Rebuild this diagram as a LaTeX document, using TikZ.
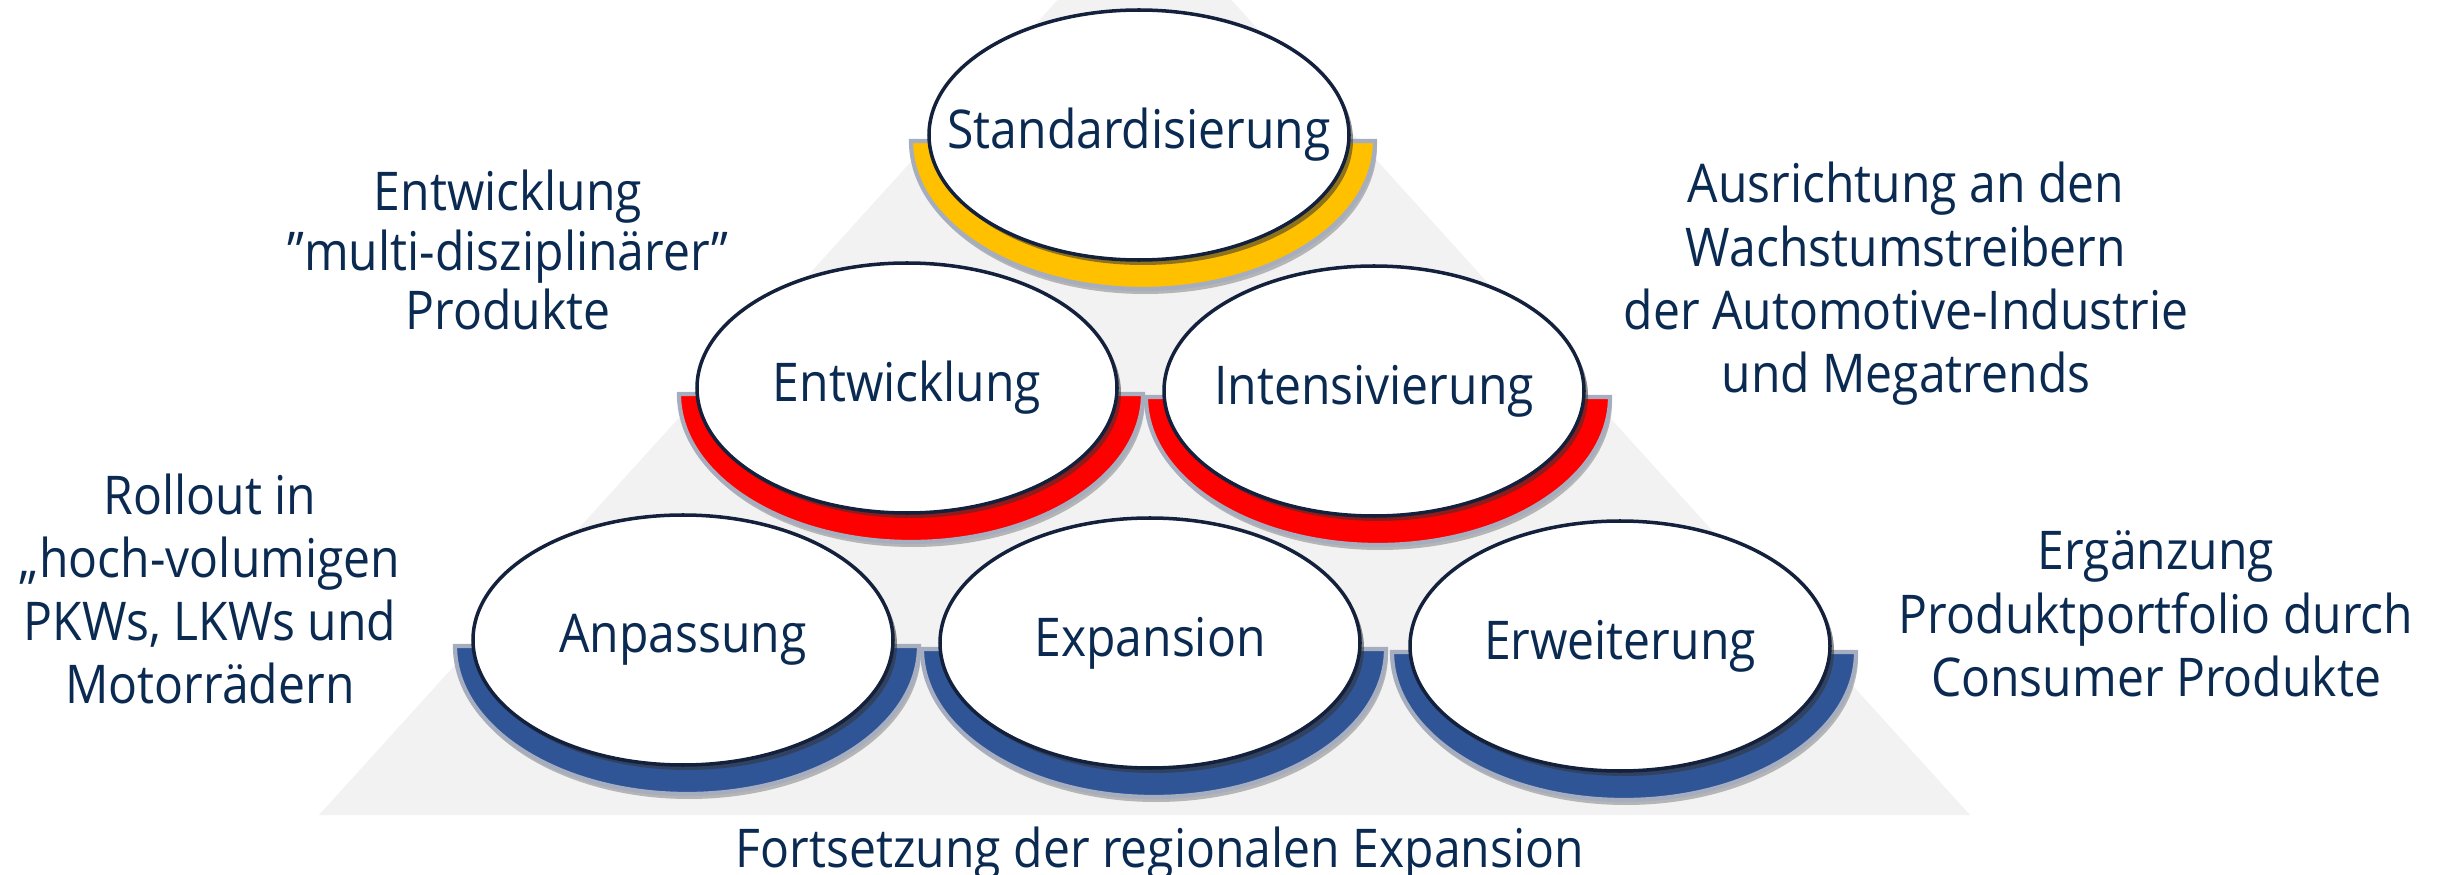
\documentclass[tikz,border=0pt]{standalone}
\usepackage{fontspec}
\setmainfont[FakeStretch=0.9]{Open Sans}
\usetikzlibrary{shapes.geometric,shadows,backgrounds}

\definecolor{navy}{HTML}{0A2A52}
\definecolor{rimblue}{HTML}{14213D}
\definecolor{gold}{HTML}{FFC000}
\definecolor{signal}{HTML}{FF0000}
\definecolor{royal}{HTML}{2F5597}
\definecolor{bandrim}{HTML}{A5ADBE}
\definecolor{pyramid}{HTML}{F2F2F2}

\begin{document}
\begin{tikzpicture}[
        stage/.style={ellipse, draw=rimblue, line width=1pt, fill=white,
            minimum width=4.2cm, minimum height=2.5cm, inner xsep=-1.5cm, inner ysep=0pt,
            text=navy, font=\fontsize{15.2}{18}\selectfont,
            drop shadow={shadow xshift=0.04cm, shadow yshift=-0.05cm, opacity=0.55, fill=black!80}},
        band/.style={draw=bandrim, line width=1.2pt,
            drop shadow={shadow xshift=0.02cm, shadow yshift=-0.05cm, opacity=0.25, fill=black}},
        note/.style={align=center, text=navy, font=\fontsize{15.2}{18}\selectfont}
    ]
        \useasboundingbox (0,0) rectangle (24.38,-8.75);

        % Stages of the pyramid
        \node[stage] (std) at (11.39,-1.35) {Standardisierung};
        \node[stage] (ent) at (9.07,-3.88) {Entwicklung};
        \node[stage] (int) at (13.74,-3.91) {Intensivierung};
        \node[stage] (anp) at (6.83,-6.40) {Anpassung};
        \node[stage] (exp) at (11.50,-6.43) {Expansion};
        \node[stage] (erw) at (16.20,-6.46) {Erweiterung};

        % Side notes
        \node[note, font=\fontsize{15.2}{16.8}\selectfont] (entnote) at (5.08,-2.50) {Entwicklung\\”multi-disziplinärer”\\Produkte};
        \node[note] (intnote) at (19.06,-2.84) {Ausrichtung an den\\Wachstumstreibern\\der Automotive-Industrie\\und Megatrends};
        \node[note] (anpnote) at (2.10,-5.89) {Rollout in\\„hoch-volumigen\\PKWs, LKWs und\\Motorrädern};
        \node[note] (erwnote) at (21.56,-6.14) {Ergänzung\\Produktportfolio durch\\Consumer Produkte};
        \node[note] (expnote) at (11.60,-8.54) {Fortsetzung der regionalen Expansion};

        % Grey pyramid and coloured half-rings behind the stages
        \begin{scope}[on background layer]
            \begin{scope}
                \clip (0,0) rectangle (24.38,-8.75);
                \fill[pyramid] (3.19,-8.15) -- (19.70,-8.15) -- (11.445,0.96) -- cycle;
            \end{scope}
            \foreach \n/\c in {std/gold, ent/signal, int/signal, anp/royal, exp/royal, erw/royal}
                \draw[band, fill=\c] ([shift={(-2.28,-0.06)}]\n.center)
                    arc[start angle=180, end angle=360, x radius=2.32, y radius=1.48] -- cycle;
        \end{scope}

    \end{tikzpicture}
\end{document}
